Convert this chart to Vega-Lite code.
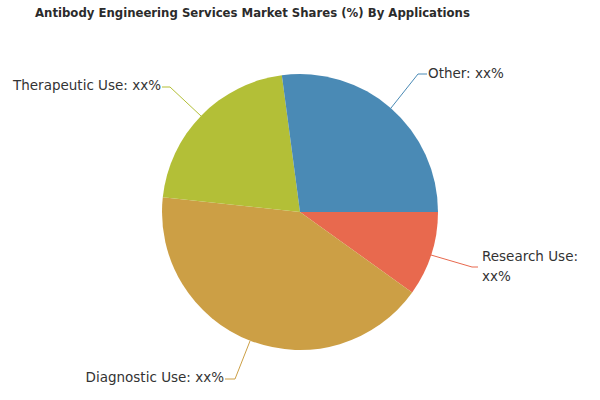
{
  "$schema": "https://vega.github.io/schema/vega-lite/v6.json",
  "width": 600,
  "height": 374,
  "padding": {"top": 7, "left": 0, "right": 0, "bottom": 0},
  "background": "white",
  "title": {
    "text": "Antibody Engineering Services Market Shares (%) By Applications",
    "anchor": "start",
    "dx": 35,
    "offset": 5,
    "font": "DejaVu Sans Condensed, Liberation Sans",
    "fontSize": 13,
    "fontWeight": "bold",
    "color": "#2b2b2b"
  },
  "datasets": {
    "slices": [
      {"app": "Research Use", "idx": 1, "share": 9.9},
      {"app": "Diagnostic Use", "idx": 2, "share": 41.8},
      {"app": "Therapeutic Use", "idx": 3, "share": 21.2},
      {"app": "Other", "idx": 4, "share": 27.1}
    ],
    "leaders": [
      {"app": "Research Use", "step": 1, "x": 131, "y": -43},
      {"app": "Research Use", "step": 2, "x": 172, "y": -55},
      {"app": "Research Use", "step": 3, "x": 178, "y": -55},
      {"app": "Diagnostic Use", "step": 1, "x": -50, "y": -129},
      {"app": "Diagnostic Use", "step": 2, "x": -65, "y": -167},
      {"app": "Diagnostic Use", "step": 3, "x": -75, "y": -167},
      {"app": "Therapeutic Use", "step": 1, "x": -99, "y": 96},
      {"app": "Therapeutic Use", "step": 2, "x": -130, "y": 125},
      {"app": "Therapeutic Use", "step": 3, "x": -138, "y": 125},
      {"app": "Other", "step": 1, "x": 91, "y": 104},
      {"app": "Other", "step": 2, "x": 118, "y": 138},
      {"app": "Other", "step": 3, "x": 127, "y": 138}
    ],
    "labels": [
      {"app": "Research Use", "label": ["Research Use:", "xx%"], "x": 182, "y": -45, "side": "left"},
      {"app": "Diagnostic Use", "label": ["Diagnostic Use: xx%"], "x": -76, "y": -166, "side": "right"},
      {"app": "Therapeutic Use", "label": ["Therapeutic Use: xx%"], "x": -139, "y": 126, "side": "right"},
      {"app": "Other", "label": ["Other: xx%"], "x": 128, "y": 138, "side": "left"}
    ]
  },
  "layer": [
    {
      "data": {"name": "slices"},
      "mark": {"type": "arc", "outerRadius": 138},
      "encoding": {
        "theta": {"field": "share", "type": "quantitative", "stack": true, "scale": {"range": [1.5708, 7.854]}},
        "order": {"field": "idx", "type": "quantitative"},
        "color": {
          "field": "app", "type": "nominal", "legend": null,
          "scale": {
            "domain": ["Research Use", "Diagnostic Use", "Therapeutic Use", "Other"],
            "range": ["#E8694E", "#CC9F45", "#B3BF37", "#4A8AB5"]
          }
        }
      }
    },
    {
      "data": {"name": "leaders"},
      "mark": {"type": "line", "strokeWidth": 1},
      "encoding": {
        "x": {"field": "x", "type": "quantitative", "scale": {"domain": [-300, 300]}, "axis": null},
        "y": {"field": "y", "type": "quantitative", "scale": {"domain": [-187, 187]}, "axis": null},
        "detail": {"field": "app"},
        "order": {"field": "step", "type": "quantitative"},
        "color": {"field": "app", "type": "nominal", "legend": null}
      }
    },
    {
      "data": {"name": "labels"},
      "transform": [{"filter": "datum.side == 'left'"}],
      "mark": {"type": "text", "align": "left", "baseline": "middle", "font": "DejaVu Sans", "fontSize": 13.5, "lineHeight": 20, "color": "#333333"},
      "encoding": {
        "x": {"field": "x", "type": "quantitative", "scale": {"domain": [-300, 300]}, "axis": null},
        "y": {"field": "y", "type": "quantitative", "scale": {"domain": [-187, 187]}, "axis": null},
        "text": {"field": "label"}
      }
    },
    {
      "data": {"name": "labels"},
      "transform": [{"filter": "datum.side == 'right'"}],
      "mark": {"type": "text", "align": "right", "baseline": "middle", "font": "DejaVu Sans", "fontSize": 13.5, "lineHeight": 20, "color": "#333333"},
      "encoding": {
        "x": {"field": "x", "type": "quantitative", "scale": {"domain": [-300, 300]}, "axis": null},
        "y": {"field": "y", "type": "quantitative", "scale": {"domain": [-187, 187]}, "axis": null},
        "text": {"field": "label"}
      }
    }
  ],
  "config": {"view": {"stroke": null}}
}
